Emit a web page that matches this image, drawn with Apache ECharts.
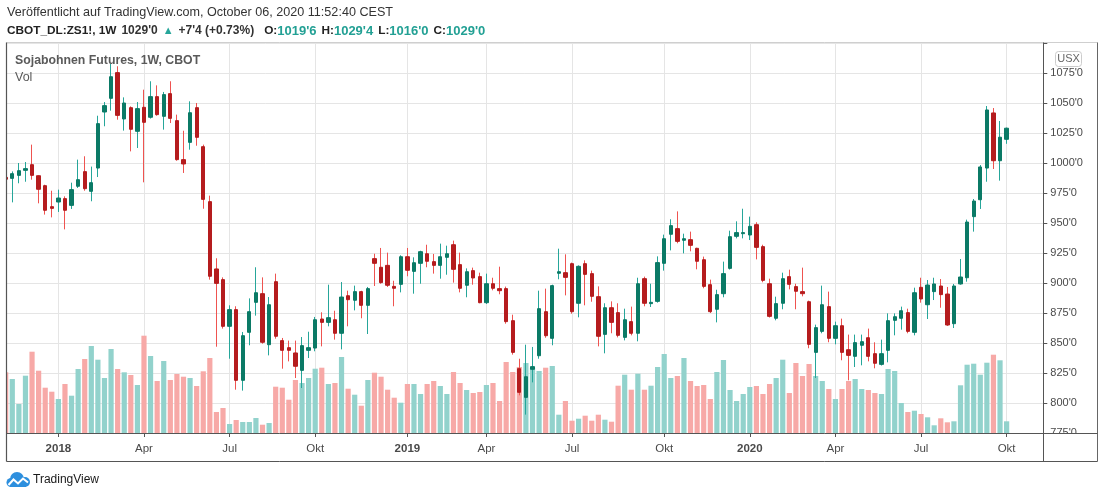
<!DOCTYPE html>
<html><head><meta charset="utf-8">
<script src="https://cdn.jsdelivr.net/npm/echarts@6/dist/echarts.min.js"></script>
<style>html,body{margin:0;padding:0;background:#fff}#c{width:1100px;height:498px}</style>
</head><body><div id="c"></div>
<script>
// Weekly bars, first bar = week of 2017-11-06
const firstWeek = '2017-11-06';
const open = [988,987.2,989.7,993.9,998.6,989.4,981.1,963.6,967.5,970.3,964.7,980.6,992.8,976.4,995.8,1042.5,1053.9,1075.3,1036.7,1046.1,
1026.4,1046.4,1038.1,1055.3,1038.9,1057.8,1035.3,1002.8,1017.2,1046.1,1013.6,967.8,911.7,902.8,863.9,877.8,818.9,858.9,883.9,891.1,
848.6,901.1,852,846.1,841.7,827.2,843.9,845.8,870,867.2,869.4,858.1,889.4,885.6,892.8,881.4,920.3,913.1,914.7,897.2,
898.9,921.9,909.7,916.4,924.4,917.8,914.7,921.4,931.9,915.3,898.1,910.3,905.3,883.6,899.4,895.3,895.3,868.6,828.6,804.7,
828.1,839.4,876.1,853.9,908.1,908.6,916.1,883.1,916.1,907.8,888.6,857.2,879.4,875.3,854.7,867.8,858.1,903.6,882.8,884.7,
916.4,940.6,945.3,935.6,936.1,928.9,919.4,898.6,878.1,891.1,912.2,938.9,941.1,940,948.6,930.3,899.4,870.6,883.1,905.3,
897,892.8,884.4,842.2,859.7,880.3,853.9,864.4,844.4,838.9,848.1,854.4,841.1,832.2,843.9,868.9,870.6,875.3,858.9,896.4,
881.9,892.8,897.5,890.8,866.1,899.2,904.4,955.3,969.4,995.8,1041.7,1001.9,1019.75];
const close = [986.5,991.1,993.6,995.3,989.7,978.1,960.6,962.2,970.8,960.6,977.8,986.1,978.6,983.6,1032.8,1047.8,1071.9,1039.7,1050,1028.1,
1045.3,1033.9,1055.3,1040.3,1057,1037.2,1002.8,999.2,1041.9,1021.4,969.7,905.6,899.7,863.9,877.8,818.9,856.1,876.1,891.9,850.6,
881.9,855.6,843.9,843.9,830.6,847.8,846.1,869.4,867.2,871.1,858.1,888.3,886.1,892.8,881.4,895.3,916.4,900.3,898.1,895.6,
921.9,910.6,916.9,926.1,918.1,914.7,921.9,924.4,911.4,895.6,909.4,904.2,883.6,899.4,895.6,893.6,867.8,842.2,808.9,821.9,
830.3,878.6,856.1,897.8,909.4,904.7,876.1,913.9,907.2,888.9,855.6,879.4,867.2,856.4,869.4,858.1,899.4,883.1,883.9,917,
936.9,947.8,934.7,936.9,931.4,918.1,897.2,876.1,890.3,907.8,938.6,942,942,947.2,929.7,902.2,872.2,882.8,903.6,898.9,
893.1,891.1,848.9,862.8,881.9,853.9,864.4,842.2,839.7,850.3,851.1,838.9,833.1,841.1,868.6,871.9,876.9,859.7,891.9,886.7,
898.3,899.2,890.3,865,897.5,905,950.8,968.3,996.7,1044.2,1001.9,1021.5,1029];
const low = [984,967.2,983.1,984.4,986.1,966.4,957,954.7,959.2,944.7,961.7,979.2,976.9,968.1,988.3,1030.6,1043.6,1036.1,1027,1009.7,
1012.5,983.9,1037,1039.4,1027.8,1033.3,1001.9,991.7,1011.1,1014.4,961.9,902.8,846.9,862,836.9,811.1,810.3,848.1,872.8,849.4,
839.7,853.6,828.6,834.7,820.8,812.5,837.5,843.1,847.2,863.9,852.8,844.7,863.9,877.2,870.6,857.5,897.5,899.4,896.7,880.6,
892.2,905.6,891.1,899.4,913.1,907.8,903.6,906.9,900.3,892.2,888.1,898.6,883.1,882.5,893.9,890.6,866.1,840.3,806.4,790.3,
817.2,836.9,854.4,848.1,903.1,889.7,874.4,871.4,881.4,884.4,847.2,841.4,858.1,854.7,852.2,856.4,851.4,880.6,880,883.6,
910.3,927.2,933.1,924.7,926.4,911.4,895.6,875,867.2,888.1,911.2,937.2,937.2,935.8,919.7,900.6,871.2,868.9,878.1,894.7,
878.1,888.9,845.6,820.8,858.1,850.6,848.9,835.6,818.9,830,831.4,834.7,828.9,831.2,833.9,856.4,861.1,858.1,856.4,883.6,
870,885.8,879.4,864.2,862.5,898.6,901.1,942.8,961.7,984.4,995,985.3,1016];
const high = [990,993,1000,1000.8,1015.3,989.6,981.9,976.9,977.8,972.2,983.6,1002.8,1005.6,997,1039.4,1050.8,1082.5,1080.6,1054.7,1047.2,
1050.8,1061.1,1068.1,1064.7,1059.2,1068.1,1040.3,1026.9,1051.4,1050,1015.3,972.8,920.6,904.7,881.4,880.6,859.2,887.2,913.1,904.7,
888.3,907.8,854.2,852,852,855,859.4,871.7,875.6,898.6,876.9,900.8,893.6,897.8,893.5,896.7,924.4,929.2,925.3,901.9,
923.1,929.2,921.4,926.9,931.9,924.2,932.8,931.1,935.3,925.3,912.2,912.8,908.6,907.8,904.4,913.6,897,873.6,836.9,848.6,
846.7,893.6,895.3,898.6,928.6,923.9,917,914.7,918.9,910.3,897.2,883.1,884.7,883.1,878.6,880.3,904.4,905.3,899.4,922.2,
940.3,953.1,959.7,941.1,942.8,929.4,922,902.8,894.4,917.8,943.6,951.4,961.9,955.3,950.6,931.9,903.6,888.6,908.6,911.1,
899.4,912.8,885.3,865.3,897.8,892.8,867.8,870.3,857,857,857,862,850.6,852.8,874.7,874.7,880.3,878.6,896.1,904.4,
902.5,904.4,903.3,896.7,899.2,920,952.8,970,998.3,1047.5,1045.8,1035,1029.5];
const volume = [60.7,54,29,57.3,81.3,62.3,45.3,41.3,34,49,37.3,64,74,87,73.3,55,84,64,60.7,58,
48,97.3,77,52,72,53,59,56.3,55,47,61.7,75,21,25,9,13,11,11,15,8.3,
10,46.3,45.3,33.3,53,50,55,64.3,65.3,49,50,76,44.3,38.3,27.3,53,60.3,56.3,43.3,35.3,
30.3,49,49,39,49,52,47,39,61,50,43,40,41,48,50,32,71,61,66,70,
65,62,65.3,67,18.3,32,12.3,14.3,17.3,12.3,18.3,13.3,11.3,47.3,58.3,43.3,59.3,43.3,47.3,66,
79,55,57,75,52,47,48,34,61,73,43,32,39,46,47,39,49,55,73.3,40,
70,57,69,57,52,44,34,44,52,54,44,43,40,39,64,62,30,21,22.3,19,
15.7,7.7,14.7,10.7,11.7,47.7,68.3,69.3,58.3,70.3,78.3,72.7,11.7];
const tickDates = ['2018-01-01','2018-04-02','2018-07-02','2018-10-01','2019-01-07','2019-04-01','2019-07-01','2019-10-07','2020-01-06','2020-04-06','2020-07-06','2020-10-05'];
const tickLabels = ['2018','Apr','Jul','Okt','2019','Apr','Jul','Okt','2020','Apr','Jul','Okt'];
const priceMin = 775, priceMax = 1100, priceStep = 25;

const DAY = 86400000;
const w0 = Date.parse(firstWeek + 'T00:00:00Z');
const weekIndex = d => Math.round((Date.parse(d + 'T00:00:00Z') - w0) / (7 * DAY));
const tickIdx = tickDates.map(weekIndex);
const labelOf = {};
tickIdx.forEach((t, k) => labelOf[t] = tickLabels[k]);

const WU = '#26a69a', WD = '#ef5350', BU = '#0b7a66', BD = '#b51c1e', VU = '#92d2cc', VD = '#f7a9a7';
const FONT = '"Liberation Sans", Arial, sans-serif';
const idx = open.map((_, i) => i);

// geometry of weekly slots: grid from x=6.5 to 1043.3 ; bar i centre = 5.7 + 6.585*i
const gridL = 6.5, gridR = 1043.3, slot = 6.585, x0c = 5.7;
const xMin = (gridL - x0c) / slot, xMax = (gridR - x0c) / slot;

const chart = echarts.init(document.getElementById('c'), null, {renderer: 'canvas'});
chart.setOption({
  animation: false,
  backgroundColor: '#ffffff',
  textStyle: {fontFamily: FONT},
  title: [
    {text: 'Veröffentlicht auf TradingView.com, October 06, 2020 11:52:40 CEST', left: 7, top: 5, padding: 0,
     textStyle: {fontSize: 12.6, fontWeight: 'normal', color: '#333333', fontFamily: FONT, lineHeight: 15}},
    {text: "{b|CBOT_DL:ZS1!, 1W} {n|1029'0} {g|▲} {n|+7'4 (+0.73%)}  {b|O:}{t|1019'6} {b|H:}{t|1029'4} {b|L:}{t|1016'0} {b|C:}{t|1029'0}",
     left: 7, top: 22, padding: 0,
     textStyle: {fontFamily: FONT, rich: {
       b: {fontSize: 11.8, fontWeight: 'bold', color: '#222', fontFamily: FONT, lineHeight: 15},
       n: {fontSize: 12, color: '#333', fontFamily: FONT, lineHeight: 15},
       g: {fontSize: 11, color: WU, fontFamily: FONT, lineHeight: 15},
       t: {fontSize: 13, color: '#22a094', fontFamily: FONT, lineHeight: 15}
     }}},
    {text: 'Sojabohnen Futures, 1W, CBOT', left: 15, top: 53, padding: 0,
     textStyle: {fontSize: 12.3, fontWeight: 'bold', color: '#5a5a5a', fontFamily: FONT, lineHeight: 15}},
    {text: 'Vol', left: 15, top: 70, padding: 0,
     textStyle: {fontSize: 12.5, fontWeight: 'normal', color: '#5a5a5a', fontFamily: FONT, lineHeight: 15}},
    {text: 'TradingView', left: 33, top: 472, padding: 0,
     textStyle: {fontSize: 12, fontWeight: 'normal', color: '#1a1a1a', fontFamily: FONT, lineHeight: 15}}
  ],
  grid: {left: gridL, right: 1100 - gridR, top: 43, bottom: 65, containLabel: false},
  xAxis: {
    type: 'value', min: xMin, max: xMax,
    axisLine: {show: false},
    axisTick: {show: true, customValues: tickIdx, length: 4, lineStyle: {color: '#555'}},
    axisLabel: {customValues: tickIdx, margin: 10, color: '#4a4a4a', fontSize: 11.5,
      formatter: v => { const s = labelOf[Math.round(v)] || ''; return /^\d{4}$/.test(s) ? '{y|' + s + '}' : '{m|' + s + '}'; },
      rich: {y: {fontWeight: 'bold', fontSize: 11.5, color: '#4a4a4a', fontFamily: FONT}, m: {fontSize: 11.5, color: '#4a4a4a', fontFamily: FONT}}},
    splitLine: {show: true, lineStyle: {color: '#e5e5e5', width: 1}}
  },
  yAxis: [
    {type: 'value', position: 'right', min: priceMin, max: priceMax, interval: priceStep,
     axisLine: {show: false},
     axisTick: {show: true, length: 4, lineStyle: {color: '#555'}},
     axisLabel: {margin: 7, color: '#4a4a4a', fontSize: 11, fontFamily: FONT,
       formatter: v => v >= priceMax ? '' : v + "'0"},
     splitLine: {show: true, lineStyle: {color: '#e5e5e5', width: 1}}},
    {type: 'value', min: 0, max: 390, show: false, splitLine: {show: false}}
  ],
  series: [
    {type: 'bar', name: 'Vol', xAxisIndex: 0, yAxisIndex: 1, barWidth: 5.2, z: 1,
     data: idx.map(i => ({value: [i, volume[i]], itemStyle: {color: close[i] >= open[i] ? VU : VD}}))},
    {type: 'candlestick', name: 'wick', barWidth: 1, z: 3,
     itemStyle: {color: WU, color0: WD, borderColor: WU, borderColor0: WD, borderWidth: 1},
     data: idx.map(i => [i, open[i], close[i], low[i], high[i]])},
    {type: 'candlestick', name: 'body', barWidth: 3.8, z: 4,
     itemStyle: {color: BU, color0: BD, borderColor: BU, borderColor0: BD, borderWidth: 1},
     data: idx.map(i => [i, open[i], close[i], Math.min(open[i], close[i]), Math.max(open[i], close[i])])}
  ],
  graphic: [
    {type: 'rect', z: 50, silent: true, shape: {x: 0, y: 43, width: 6.2, height: 391}, style: {fill: '#fff'}},
    {type: 'rect', z: 50, silent: true, shape: {x: 1044, y: 434, width: 53, height: 27}, style: {fill: '#fff'}},
    {type: 'line', z: 100, shape: {x1: 6.5, y1: 42.5, x2: 1097.5, y2: 42.5}, style: {stroke: '#cfcfcf', lineWidth: 1}},
    {type: 'line', z: 100, shape: {x1: 6.5, y1: 42.5, x2: 6.5, y2: 461.5}, style: {stroke: '#555', lineWidth: 1.2}},
    {type: 'line', z: 100, shape: {x1: 1043.5, y1: 42.5, x2: 1043.5, y2: 461.5}, style: {stroke: '#555', lineWidth: 1}},
    {type: 'line', z: 100, shape: {x1: 1097.5, y1: 42.5, x2: 1097.5, y2: 461.5}, style: {stroke: '#666', lineWidth: 1}},
    {type: 'line', z: 100, shape: {x1: 6.5, y1: 433.5, x2: 1097.5, y2: 433.5}, style: {stroke: '#555', lineWidth: 1}},
    {type: 'line', z: 100, shape: {x1: 6.5, y1: 461.5, x2: 1097.5, y2: 461.5}, style: {stroke: '#555', lineWidth: 1}},
    {type: 'rect', z: 100, shape: {x: 1055.5, y: 51.5, width: 26, height: 15, r: 3}, style: {fill: '#fff', stroke: '#cccccc', lineWidth: 1}},
    {type: 'text', z: 101, x: 1068.5, y: 59, style: {text: 'USX', fill: '#666', font: '11px ' + FONT, align: 'center', verticalAlign: 'middle'}},
    {type: 'circle', z: 100, shape: {cx: 11, cy: 482.5, r: 4.5}, style: {fill: '#2d8fde'}},
    {type: 'circle', z: 100, shape: {cx: 17, cy: 479, r: 7}, style: {fill: '#2d8fde'}},
    {type: 'circle', z: 100, shape: {cx: 25, cy: 482, r: 5}, style: {fill: '#2d8fde'}},
    {type: 'rect', z: 100, shape: {x: 10, y: 482, width: 16, height: 5}, style: {fill: '#2d8fde'}},
    {type: 'polyline', z: 101, shape: {points: [[8.5, 485], [13.5, 479.5], [18, 483.5], [23, 478.5], [28, 482.5]]}, style: {stroke: '#fff', lineWidth: 2, fill: null}}
  ]
});
</script>
</body></html>
